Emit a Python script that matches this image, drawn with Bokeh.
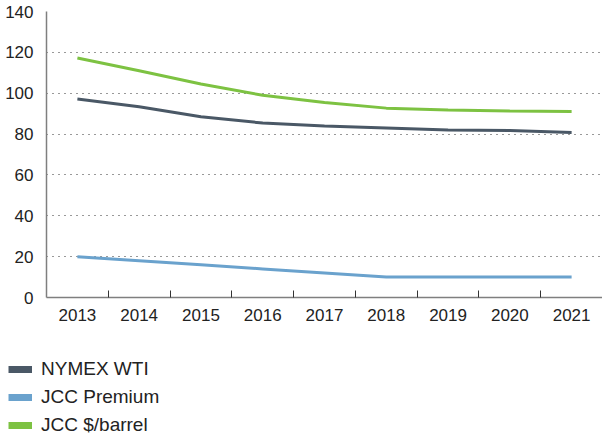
from bokeh.plotting import figure
from bokeh.layouts import column
from bokeh.models import Range1d, FixedTicker, Legend, LegendItem
from bokeh.embed import file_html
from bokeh.resources import INLINE

years = ["2013", "2014", "2015", "2016", "2017", "2018", "2019", "2020", "2021"]
nymex_wti = [97.2, 93.4, 88.5, 85.4, 84.0, 83.0, 82.0, 81.7, 80.8]
jcc_premium = [19.9, 18.0, 16.0, 14.0, 12.0, 10.0, 10.0, 10.0, 10.0]
jcc_barrel = [117.2, 111.0, 104.5, 99.0, 95.5, 92.7, 91.8, 91.3, 91.0]

series_names = ["NYMEX WTI", "JCC Premium", "JCC $/barrel"]
colors = ["#4a5866", "#6aa2cd", "#7dc242"]

FONT = "Liberation Sans"
xs = list(range(len(years)))

p = figure(width=602, height=340, output_backend="svg", toolbar_location=None,
           x_range=Range1d(-0.5, len(years) - 0.5), y_range=Range1d(0, 140),
           min_border_left=46, min_border_right=0, min_border_top=11, min_border_bottom=43,
           frame_align=False)
p.outline_line_color = None
p.background_fill_color = None
p.border_fill_color = "white"

for vals, c in zip([nymex_wti, jcc_premium, jcc_barrel], colors):
    p.line(xs, vals, line_color=c, line_width=3)

# x axis
p.xaxis.ticker = FixedTicker(ticks=xs, minor_ticks=[i + 0.5 for i in xs[:-1]])
p.xaxis.major_label_overrides = {i: y for i, y in zip(xs, years)}
p.xaxis.major_tick_line_color = None
p.xaxis.minor_tick_in = 7
p.xaxis.minor_tick_out = 0
p.xaxis.minor_tick_line_color = "#333333"
p.xaxis.axis_line_color = "#7f7f7f"
p.xaxis.axis_line_width = 1.5
p.xaxis.major_label_text_font = FONT
p.xaxis.major_label_text_font_size = "17px"
p.xaxis.major_label_text_color = "#222222"
p.xaxis.major_label_standoff = 5

# y axis
p.yaxis.ticker = FixedTicker(ticks=[0, 20, 40, 60, 80, 100, 120, 140])
p.yaxis.major_tick_line_color = None
p.yaxis.minor_tick_line_color = None
p.yaxis.axis_line_color = "#7f7f7f"
p.yaxis.axis_line_width = 1.5
p.yaxis.major_label_text_font = FONT
p.yaxis.major_label_text_font_size = "17px"
p.yaxis.major_label_text_color = "#222222"
p.yaxis.major_label_standoff = 7

p.xgrid.grid_line_color = None
p.ygrid.ticker = FixedTicker(ticks=[20, 40, 60, 80, 100, 120, 140])
p.ygrid.grid_line_color = "#333333"
p.ygrid.grid_line_dash = "1 5"
p.ygrid.grid_line_width = 1

# legend figure
q = figure(width=602, height=101, output_backend="svg", toolbar_location=None,
           x_axis_type=None, y_axis_type=None,
           x_range=Range1d(0, 1), y_range=Range1d(0, 1),
           min_border_left=0, min_border_right=0, min_border_top=0, min_border_bottom=0,
           frame_align=False)
q.grid.grid_line_color = None
q.outline_line_color = None
nan = float("nan")
renderers = [q.line([nan, nan], [nan, nan], line_color=c, line_width=7) for c in colors]

legend = Legend(items=[LegendItem(label=n, renderers=[r]) for n, r in zip(series_names, renderers)],
                location=(8, 5), orientation="vertical",
                glyph_width=24, glyph_height=22, label_height=22, label_standoff=9, spacing=6,
                padding=0, margin=0, border_line_color=None, background_fill_alpha=0,
                label_text_font=FONT, label_text_font_size="19px", label_text_color="#222222")
q.add_layout(legend, "center")

layout = column(p, q, spacing=0)
open("out.html", "w").write(file_html(layout, INLINE))
